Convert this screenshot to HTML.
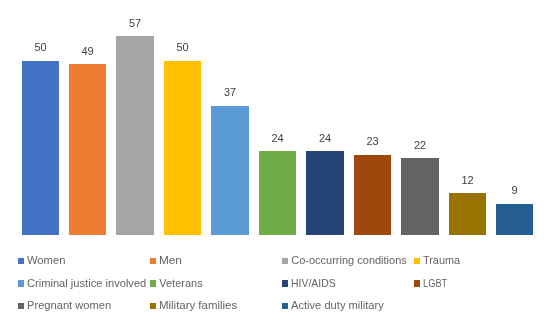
<!DOCTYPE html>
<html><head><meta charset="utf-8"><style>
html,body{margin:0;padding:0;background:#fff;}
body{width:551px;height:331px;position:relative;overflow:hidden;will-change:transform;font-family:"Liberation Sans",sans-serif;}
.bar{position:absolute;}
.lbl{position:absolute;width:40px;text-align:center;font-size:11px;line-height:11px;color:#404040;}
.sq{position:absolute;width:6px;height:6px;}
.lt{position:absolute;font-size:11px;line-height:11px;color:#646464;white-space:nowrap;transform-origin:0 50%;}
</style></head><body>
<div class="bar" style="left:22px;top:61px;width:37px;height:174px;background:#4472C4"></div><div class="lbl" style="left:20.50px;top:42px">50</div><div class="bar" style="left:69px;top:64px;width:37px;height:171px;background:#ED7D31"></div><div class="lbl" style="left:67.50px;top:46px">49</div><div class="bar" style="left:116px;top:36px;width:38px;height:199px;background:#A5A5A5"></div><div class="lbl" style="left:115.00px;top:18px">57</div><div class="bar" style="left:164px;top:61px;width:37px;height:174px;background:#FFC000"></div><div class="lbl" style="left:162.50px;top:42px">50</div><div class="bar" style="left:211px;top:106px;width:38px;height:129px;background:#5B9BD5"></div><div class="lbl" style="left:210.00px;top:87px">37</div><div class="bar" style="left:259px;top:151px;width:37px;height:84px;background:#70AD47"></div><div class="lbl" style="left:257.50px;top:133px">24</div><div class="bar" style="left:306px;top:151px;width:38px;height:84px;background:#264478"></div><div class="lbl" style="left:305.00px;top:133px">24</div><div class="bar" style="left:354px;top:155px;width:37px;height:80px;background:#9E480E"></div><div class="lbl" style="left:352.50px;top:136px">23</div><div class="bar" style="left:401px;top:158px;width:38px;height:77px;background:#636363"></div><div class="lbl" style="left:400.00px;top:140px">22</div><div class="bar" style="left:449px;top:193px;width:37px;height:42px;background:#997300"></div><div class="lbl" style="left:447.50px;top:175px">12</div><div class="bar" style="left:496px;top:204px;width:37px;height:31px;background:#255E91"></div><div class="lbl" style="left:494.50px;top:185px">9</div>
<div class="sq" style="left:18px;top:258px;height:6px;background:#4472C4"></div><div class="lt" style="left:27.25px;top:260px;transform:translateY(-50%) scaleX(1.018)">Women</div><div class="sq" style="left:150px;top:258px;height:6px;background:#ED7D31"></div><div class="lt" style="left:159.25px;top:260px;transform:translateY(-50%) scaleX(1.07)">Men</div><div class="sq" style="left:282px;top:258px;height:6px;background:#A5A5A5"></div><div class="lt" style="left:291.25px;top:260px;transform:translateY(-50%) scaleX(1.0)">Co-occurring conditions</div><div class="sq" style="left:414px;top:258px;height:6px;background:#FFC000"></div><div class="lt" style="left:423.25px;top:260px;transform:translateY(-50%) scaleX(0.99)">Trauma</div><div class="sq" style="left:18px;top:280px;height:7px;background:#5B9BD5"></div><div class="lt" style="left:27.25px;top:282.5px;transform:translateY(-50%) scaleX(1.011)">Criminal justice involved</div><div class="sq" style="left:150px;top:280px;height:7px;background:#70AD47"></div><div class="lt" style="left:159.25px;top:282.5px;transform:translateY(-50%) scaleX(1.0)">Veterans</div><div class="sq" style="left:282px;top:280px;height:7px;background:#264478"></div><div class="lt" style="left:291.25px;top:282.5px;transform:translateY(-50%) scaleX(0.948)">HIV/AIDS</div><div class="sq" style="left:414px;top:280px;height:7px;background:#9E480E"></div><div class="lt" style="left:423.25px;top:282.5px;transform:translateY(-50%) scaleX(0.845)">LGBT</div><div class="sq" style="left:18px;top:303px;height:6px;background:#636363"></div><div class="lt" style="left:27.25px;top:305px;transform:translateY(-50%) scaleX(1.012)">Pregnant women</div><div class="sq" style="left:150px;top:303px;height:6px;background:#997300"></div><div class="lt" style="left:159.25px;top:305px;transform:translateY(-50%) scaleX(1.039)">Military families</div><div class="sq" style="left:282px;top:303px;height:6px;background:#255E91"></div><div class="lt" style="left:291.25px;top:305px;transform:translateY(-50%) scaleX(1.012)">Active duty military</div>
</body></html>
